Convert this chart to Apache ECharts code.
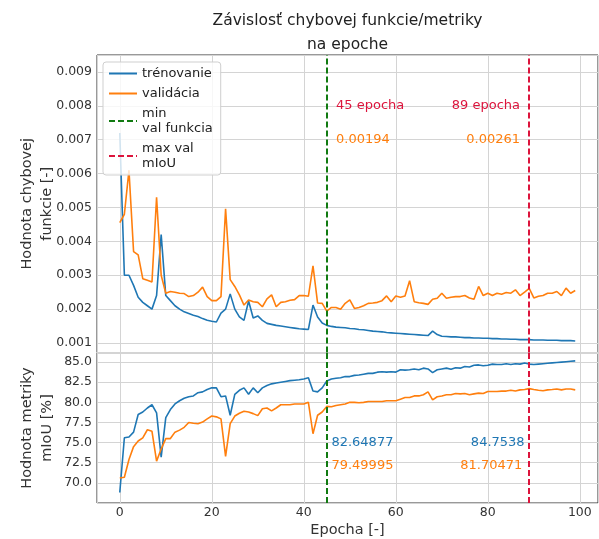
<!DOCTYPE html>
<html>
<head>
<meta charset="utf-8">
<script src="https://cdn.jsdelivr.net/npm/echarts@6/dist/echarts.min.js"></script>
<style>
  html, body { margin: 0; padding: 0; background: #fff; }
  #chart { width: 599px; height: 539px; }
</style>
</head>
<body>
<div id="chart"></div>
<script>
// epochs are the array index (0..99)
const trainLoss = [
  0.0072, 0.0030, 0.0030, 0.0027, 0.00235, 0.0022, 0.0021, 0.0020, 0.0024, 0.0042,
  0.0024, 0.00225, 0.0021, 0.0020, 0.00192, 0.00187, 0.00182, 0.00178, 0.00172, 0.00167,
  0.00164, 0.00162, 0.00188, 0.0020, 0.00245, 0.0020, 0.00177, 0.00167, 0.00224, 0.00174,
  0.0018, 0.00167, 0.00158, 0.00155, 0.00152, 0.0015, 0.00148, 0.00146, 0.00144, 0.00142,
  0.00141, 0.0014, 0.00212, 0.00177, 0.00159, 0.00152, 0.00149, 0.00147, 0.00146, 0.00145,
  0.00143, 0.00142, 0.0014, 0.00139, 0.00137, 0.00135, 0.00134, 0.00133, 0.00131, 0.0013,
  0.00129, 0.00128, 0.00127, 0.00126, 0.00125, 0.00124, 0.00123, 0.00122, 0.00135, 0.00125,
  0.0012, 0.00119, 0.00118, 0.00118, 0.00117, 0.00116, 0.00116, 0.00115, 0.00115, 0.00114,
  0.00114, 0.00113, 0.00113, 0.00112, 0.00112, 0.00111, 0.00111, 0.0011, 0.0011, 0.0011,
  0.00109, 0.00109, 0.00109, 0.00108, 0.00108, 0.00108, 0.00107, 0.00107, 0.00107, 0.00106
];
const valLoss = [
  0.00455, 0.0048, 0.0061, 0.0037, 0.0036, 0.0029, 0.00285, 0.0028, 0.0053, 0.0030,
  0.00247, 0.00252, 0.0025, 0.00247, 0.00246, 0.00237, 0.0024, 0.0025, 0.00265, 0.00237,
  0.00225, 0.00225, 0.00237, 0.00496, 0.00287, 0.00267, 0.00242, 0.00212, 0.00227, 0.00222,
  0.0022, 0.00207, 0.0023, 0.00242, 0.00207, 0.0022, 0.00222, 0.00226, 0.00228, 0.0024,
  0.0024, 0.00238, 0.00328, 0.00218, 0.00217, 0.00194, 0.00205, 0.00205, 0.002, 0.00217,
  0.00227, 0.00202, 0.00205, 0.0021, 0.00217, 0.00218, 0.0022, 0.00225, 0.00239, 0.00222,
  0.00239, 0.00235, 0.00239, 0.00284, 0.00222, 0.00219, 0.00217, 0.00214, 0.00229, 0.00232,
  0.00247, 0.00232, 0.00235, 0.00237, 0.00237, 0.0024, 0.00233, 0.00229, 0.00267, 0.0024,
  0.00247, 0.0024, 0.00247, 0.00244, 0.00249, 0.00247, 0.00257, 0.0024, 0.0025, 0.00261,
  0.00233, 0.00238, 0.0024, 0.00247, 0.00247, 0.00252, 0.0024, 0.00262, 0.00247, 0.00255
];
const trainIoU = [
  68.8, 75.6, 75.7, 76.3, 78.5, 78.8, 79.3, 79.7, 78.7, 73.2,
  78.1, 79.1, 79.8, 80.2, 80.5, 80.7, 80.8, 81.2, 81.3, 81.6,
  81.8, 81.8, 80.7, 80.8, 78.4, 81.0, 81.5, 81.8, 81.0, 81.8,
  81.2, 81.8, 82.1, 82.3, 82.4, 82.5, 82.6, 82.7, 82.75, 82.8,
  82.9, 83.05, 81.4, 81.3, 81.8, 82.64877, 82.9, 83.0, 83.05, 83.2,
  83.2, 83.35, 83.4, 83.5, 83.6, 83.6, 83.75, 83.8, 83.75, 83.8,
  83.75, 84.05, 84.0, 84.05, 84.15, 84.05, 84.25, 84.15, 83.7, 84.05,
  84.15, 84.25, 84.1, 84.3, 84.25, 84.45, 84.4, 84.6, 84.65, 84.55,
  84.6, 84.75, 84.7, 84.7, 84.8, 84.7, 84.8, 84.75, 84.9, 84.7538,
  84.7, 84.75, 84.8, 84.85, 84.9, 84.95, 85.0, 85.05, 85.1, 85.15
];
const valIoU = [
  70.6, 70.7, 72.9, 74.5, 75.2, 75.6, 76.6, 76.4, 72.7, 74.2,
  75.5, 75.5, 76.3, 76.55, 76.9, 77.5, 77.4, 77.35, 77.55, 77.95,
  78.3, 78.2, 77.95, 73.3, 77.35, 78.3, 78.65, 78.9, 78.8, 78.6,
  78.35, 79.2, 79.3, 78.95, 79.3, 79.7, 79.7, 79.7, 79.8, 79.8,
  79.8, 80.0, 76.1, 78.4, 78.8, 79.49995, 79.45, 79.6, 79.7, 79.8,
  80.0, 80.0, 79.95, 80.0, 80.1, 80.1, 80.1, 80.1, 80.2, 80.2,
  80.2, 80.4, 80.6, 80.6, 80.8, 80.8, 80.95, 81.3, 80.3, 80.7,
  80.8, 80.95, 80.95, 81.1, 81.05, 81.1, 80.95, 81.05, 81.15, 81.1,
  81.35, 81.35, 81.35, 81.4, 81.4, 81.5, 81.4, 81.55, 81.6, 81.70471,
  81.6, 81.5, 81.45, 81.55, 81.6, 81.66, 81.55, 81.65, 81.65, 81.55
];
const minEpoch = 45;   // min val funkcia
const maxEpoch = 89;   // max val mIoU
const names = ['trénovanie', 'validácia', 'min\nval funkcia', 'max val\nmIoU'];

const BLUE = '#1f77b4', ORANGE = '#ff7f0e', GREEN = '#117a11', RED = '#dc143c';
const FONT = 'DejaVu Sans';

const chart = echarts.init(document.getElementById('chart'), null, { renderer: 'canvas' });

const xAxisBase = {
  type: 'value',
  min: -4.95,
  max: 103.95,
  splitNumber: 5,
  axisLine: { show: false },
  axisTick: { show: false },
  splitLine: { show: true, lineStyle: { color: '#d4d4d4', width: 1 } },
};
const yAxisBase = {
  type: 'value',
  axisLine: { show: false },
  axisTick: { show: false },
  splitLine: { show: true, lineStyle: { color: '#d4d4d4', width: 1 } },
  nameLocation: 'middle',
  nameRotate: 90,
  nameGap: 40,
  nameMoveOverlap: false,
  nameTextStyle: { fontSize: 14.5, color: '#333', lineHeight: 20, fontFamily: FONT },
};

function lineSerie(name, data, color, axis) {
  return {
    name, type: 'line', xAxisIndex: axis, yAxisIndex: axis,
    data: data.map((v, i) => [i, v]),
    showSymbol: false, symbol: 'none',
    color, lineStyle: { color, width: 1.6 },
    z: 2,
  };
}

function note(epoch, y, text, color, side) {
  return {
    coord: [epoch, y],
    symbol: 'circle', symbolSize: 0,
    label: {
      show: true, formatter: text, position: side, distance: 0,
      color, fontSize: 13, fontFamily: FONT,
    },
  };
}

function vline(name, epoch, color, axis, notes) {
  return {
    name, type: 'line', xAxisIndex: axis, yAxisIndex: axis,
    data: [], symbol: 'none', color,
    lineStyle: { color, width: 2, type: [6, 3] },
    markLine: {
      silent: true, symbol: ['none', 'none'],
      label: { show: false },
      lineStyle: { color, width: 2, type: [6, 3] },
      data: [{ xAxis: epoch }],
    },
    markPoint: { silent: true, data: notes },
    z: 3,
  };
}

const option = {
  animation: false,
  backgroundColor: '#fff',
  textStyle: { fontFamily: FONT },
  graphic: [{
    type: 'text', x: 347.5, y: 9,
    style: {
      text: 'Závislosť chybovej funkcie/metriky\nna epoche',
      textAlign: 'center', fill: '#222',
      font: '15.5px "DejaVu Sans"', lineHeight: 24,
    },
  }],
  legend: {
    data: names,
    orient: 'vertical',
    left: 103, top: 62,
    itemWidth: 28, itemHeight: 12, itemGap: 5,
    padding: [4, 8, 4, 5],
    backgroundColor: 'rgba(255,255,255,0.8)',
    borderColor: '#cfcfcf', borderWidth: 1, borderRadius: 3,
    itemStyle: { opacity: 0 },
    textStyle: { fontSize: 13, color: '#222', lineHeight: 15, fontFamily: FONT },
    z: 10,
  },
  grid: [
    { left: 97, top: 55, width: 501, height: 297.5, show: true, borderColor: '#333', borderWidth: 1 },
    { left: 97, top: 353, width: 501, height: 152, show: true, borderColor: '#333', borderWidth: 1 },
  ],
  xAxis: [
    Object.assign({}, xAxisBase, { gridIndex: 0, axisLabel: { show: false } }),
    Object.assign({}, xAxisBase, {
      gridIndex: 1,
      name: 'Epocha [-]', nameLocation: 'middle', nameGap: 14, nameMoveOverlap: false,
      nameTextStyle: { fontSize: 14.5, color: '#333', fontFamily: FONT, verticalAlign: 'top', padding: [6, 0, 0, 0] },
      axisLabel: { color: '#333', fontSize: 12.5, margin: 3, showMinLabel: false, showMaxLabel: false, fontFamily: FONT },
    }),
  ],
  yAxis: [
    Object.assign({}, yAxisBase, {
      gridIndex: 0, min: 0.00072, max: 0.0095, splitNumber: 9,
      name: 'Hodnota chybovej\nfunkcie [-]',
      axisLabel: {
        color: '#333', fontSize: 12.5, margin: 5, showMinLabel: false, showMaxLabel: false, fontFamily: FONT,
        formatter: v => v.toFixed(3),
      },
    }),
    Object.assign({}, yAxisBase, {
      gridIndex: 1, min: 67.5, max: 86.13, interval: 2.5,
      name: 'Hodnota metriky\nmIoU [%]',
      axisLabel: {
        color: '#333', fontSize: 12.5, margin: 5, showMinLabel: false, showMaxLabel: false, fontFamily: FONT,
        formatter: v => (v < 69 || v > 86) ? '' : v.toFixed(1),
      },
    }),
  ],
  series: [
    lineSerie(names[0], trainLoss, BLUE, 0),
    lineSerie(names[1], valLoss, ORANGE, 0),
    lineSerie(names[0], trainIoU, BLUE, 1),
    lineSerie(names[1], valIoU, ORANGE, 1),
    vline(names[2], minEpoch, GREEN, 0, [
      note(minEpoch + 2, 0.00801, minEpoch + ' epocha', RED, 'right'),
      note(minEpoch + 2, 0.00699, valLoss[minEpoch].toFixed(5), ORANGE, 'right'),
    ]),
    vline(names[3], maxEpoch, RED, 0, [
      note(maxEpoch - 2, 0.00801, maxEpoch + ' epocha', RED, 'left'),
      note(maxEpoch - 2, 0.00699, valLoss[maxEpoch].toFixed(5), ORANGE, 'left'),
    ]),
    vline(names[2], minEpoch, GREEN, 1, [
      note(minEpoch + 1, 75.0, String(trainIoU[minEpoch]), BLUE, 'right'),
      note(minEpoch + 1, 72.1, String(valIoU[minEpoch]), ORANGE, 'right'),
    ]),
    vline(names[3], maxEpoch, RED, 1, [
      note(maxEpoch - 1, 75.0, String(trainIoU[maxEpoch]), BLUE, 'left'),
      note(maxEpoch - 1.5, 72.1, String(valIoU[maxEpoch]), ORANGE, 'left'),
    ]),
  ],
};

chart.setOption(option);
</script>
</body>
</html>
